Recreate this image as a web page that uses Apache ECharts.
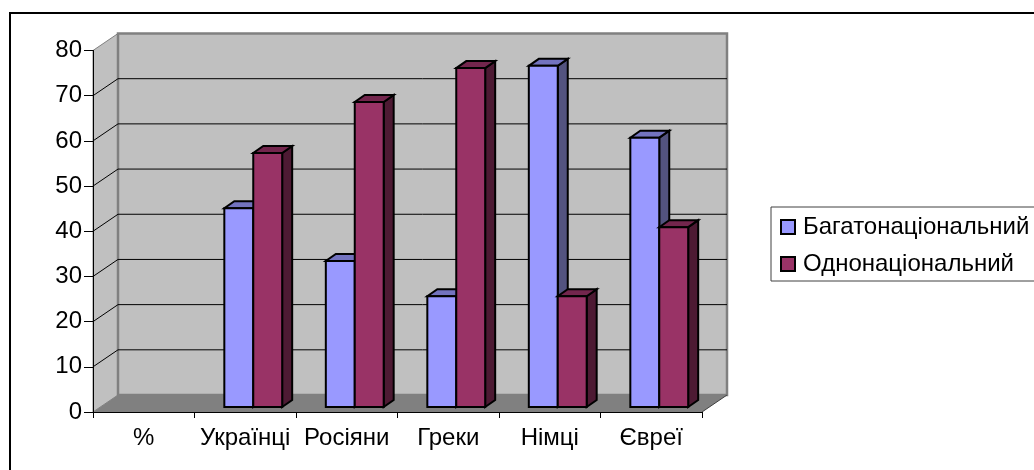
<!DOCTYPE html>
<html><head><meta charset="utf-8">
<style>html,body{margin:0;padding:0;background:#fff;overflow:hidden}#c{width:1034px;height:470px}</style>
<script src="https://cdn.jsdelivr.net/npm/echarts@6/dist/echarts.min.js"></script>
</head><body><div id="c"></div>
<script>
const categories = ['%', 'Українці', 'Росіяни', 'Греки', 'Німці', 'Євреї'];
const multi = [null, 44, 32.3, 24.5, 75.5, 59.6];
const mono = [null, 56.2, 67.5, 75, 24.5, 39.8];
const yTicks = [10, 20, 30, 40, 50, 60, 70];
const wallDepth = [25, -17], barGap = [8, -5], barDepth = [10, -7];
const barFrac = 0.285;

function poly(points, fill, stroke, lw) {
  return { type: 'polygon', shape: { points }, silent: true,
    style: { fill, stroke: stroke || null, lineWidth: lw || 0, lineJoin: 'miter' } };
}
function line(a, b, stroke, lw) {
  return { type: 'line', shape: { x1: a[0], y1: a[1], x2: b[0], y2: b[1] }, silent: true,
    style: { stroke, lineWidth: lw } };
}
function plotEdges(api, v) {
  const w = api.size([1, 0])[0];
  const p0 = api.coord([0, v]);
  const l = p0[0] - w / 2;
  return { l, r: l + w * categories.length, y: p0[1] };
}
const dx = wallDepth[0], dy = wallDepth[1];

function wallsItem(params, api) {
  const b = plotEdges(api, 0), t = plotEdges(api, 80);
  return { type: 'group', children: [
    poly([[b.l, b.y], [b.l + dx, b.y + dy], [t.l + dx, t.y + dy], [t.l, t.y]], '#c0c0c0', '#808080', 1),
    poly([[t.l + dx, t.y + dy], [t.r + dx, t.y + dy], [t.r + dx, b.y + dy], [t.l + dx, b.y + dy]], '#c0c0c0', '#808080', 2.5),
    poly([[b.l, b.y], [b.r, b.y], [b.r + dx, b.y + dy], [b.l + dx, b.y + dy]], '#808080', null, 0),
    line([t.r, b.y],[t.r + dx, b.y + dy], '#404040', 1)
  ]};
}
function gridItem(params, api) {
  const e = plotEdges(api, api.value(0));
  return { type: 'group', children: [
    line([e.l, e.y], [e.l + dx, e.y + dy], '#000', 1),
    line([e.l + dx, e.y + dy], [e.r + dx, e.y + dy], '#000', 1)
  ]};
}
function barRenderer(side, front, top, dark) {
  return function (params, api) {
    const v = api.value(1);
    if (isNaN(v)) return null;
    const i = api.value(0);
    const w = api.size([1, 0])[0] * barFrac;
    const c = api.coord([i, 0]), h = api.coord([i, v]);
    const x0 = c[0] + barGap[0] + (side === 0 ? -w : 0), x1 = x0 + w;
    const yb = c[1] + barGap[1], yt = h[1] + barGap[1];
    const ox = barDepth[0], oy = barDepth[1];
    const lw = 2;
    return { type: 'group', children: [
      poly([[x1, yb], [x1 + ox, yb + oy], [x1 + ox, yt + oy], [x1, yt]], dark, '#000', lw),
      poly([[x0, yt], [x1, yt], [x1 + ox, yt + oy], [x0 + ox, yt + oy]], top, '#000', lw),
      poly([[x0, yb], [x1, yb], [x1, yt], [x0, yt]], front, '#000', lw)
    ]};
  };
}
const toData = arr => arr.map((v, i) => [i, v === null ? NaN : v]);
const chart = echarts.init(document.getElementById('c'), null, { renderer: 'canvas' });
chart.setOption({
  animation: false,
  backgroundColor: '#fff',
  textStyle: { fontFamily: '"Liberation Sans", Arial, sans-serif' },
  grid: { left: 93, right: 332, top: 50.5, bottom: 58, containLabel: false },
  xAxis: { type: 'category', data: categories, z: 10,
    axisLine: { lineStyle: { color: '#000', width: 1 } },
    axisTick: { show: true, length: 6, lineStyle: { color: '#000' } },
    axisLabel: { color: '#000', fontSize: 24, margin: 14, interval: 0, hideOverlap: false },
    splitLine: { show: false } },
  yAxis: { type: 'value', min: 0, max: 80, interval: 10, z: 10,
    axisLine: { show: true, lineStyle: { color: '#000', width: 1 } },
    axisTick: { show: true, length: 9, lineStyle: { color: '#000' } },
    axisLabel: { color: '#000', fontSize: 24, margin: 11 },
    splitLine: { show: false } },
  legend: { show: true, left: 771, top: 207, orient: 'vertical', padding: [8, 12, 5, 9], itemGap: 13,
    itemWidth: 14, itemHeight: 14, icon: 'rect',
    backgroundColor: '#fff', borderColor: '#404040', borderWidth: 1, borderRadius: 0,
    textStyle: { color: '#000', fontSize: 24, fontFamily: '"Liberation Sans", Arial, sans-serif', padding: [0, 0, 0, 3] },
    data: ['Багатонаціональний', 'Однонаціональний'] },
  graphic: [
    { type: 'line', shape: { x1: 10, y1: 13, x2: 1034, y2: 13 }, style: { stroke: '#000', lineWidth: 2 }, silent: true },
    { type: 'line', shape: { x1: 10, y1: 12, x2: 10, y2: 470 }, style: { stroke: '#000', lineWidth: 2 }, silent: true }
  ],
  series: [
    { type: 'custom', name: 'walls', data: [[0, 0]], renderItem: wallsItem, z: 1, silent: true, clip: false },
    { type: 'custom', name: 'grid', data: yTicks.map(v => [v]), encode: { x: -1, y: 0 }, renderItem: gridItem, z: 2, silent: true, clip: false },
    { type: 'custom', name: 'Багатонаціональний', data: toData(multi), encode: { x: 0, y: 1 }, z: 3, clip: false,
      itemStyle: { color: '#9999ff', borderColor: '#000', borderWidth: 1.5 },
      renderItem: barRenderer(0, '#9999ff', '#7373bf', '#53537f') },
    { type: 'custom', name: 'Однонаціональний', data: toData(mono), encode: { x: 0, y: 1 }, z: 4, clip: false,
      itemStyle: { color: '#993366', borderColor: '#000', borderWidth: 1.5 },
      renderItem: barRenderer(1, '#993366', '#73264d', '#4d1a33') }
  ]
});
</script></body></html>
